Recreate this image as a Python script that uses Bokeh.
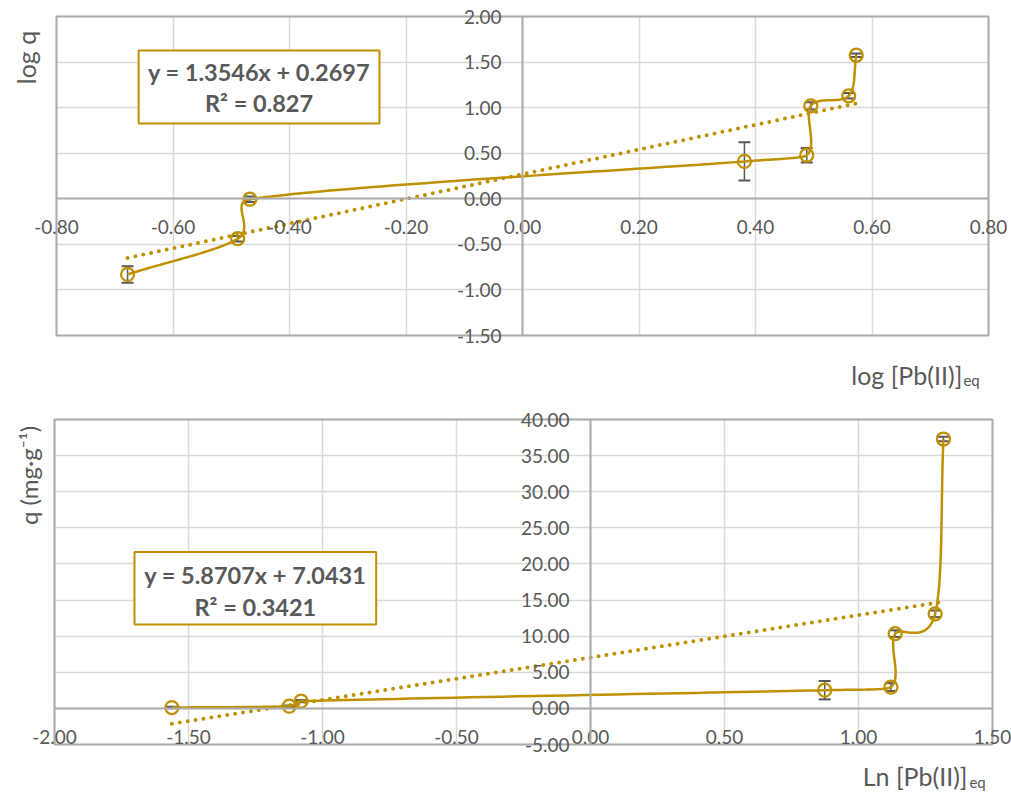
import math
import numpy as np
from bokeh.plotting import figure
from bokeh.layouts import column
from bokeh.models import (Range1d, FixedTicker, NumeralTickFormatter, ColumnDataSource,
                          Whisker, TeeHead, BoxAnnotation, Label)
from bokeh.embed import file_html
from bokeh.resources import INLINE

# ---- Freundlich-style plot: log q vs log [Pb(II)]eq ----
log_c = [-0.678, -0.489, -0.468, 0.381, 0.488, 0.495, 0.560, 0.573]
log_q = [-0.830, -0.438, -0.005, 0.410, 0.478, 1.020, 1.130, 1.575]
log_q_err = [0.09, 0.03, 0.03, 0.21, 0.08, 0.04, 0.03, 0.02]
log_slope, log_intercept, log_r2 = 1.3546, 0.2697, "0.827"
top_x_ticks = [-0.8, -0.6, -0.4, -0.2, 0.0, 0.2, 0.4, 0.6, 0.8]
top_y_ticks = [-1.5, -1.0, -0.5, 0.0, 0.5, 1.0, 1.5, 2.0]

# ---- Temkin-style plot: q vs Ln [Pb(II)]eq ----
ln_c = [-1.562, -1.124, -1.080, 0.874, 1.121, 1.137, 1.286, 1.317]
q = [0.12, 0.30, 1.00, 2.52, 2.95, 10.35, 13.10, 37.30]
q_err = [0.10, 0.10, 0.15, 1.27, 0.55, 0.46, 0.46, 0.32]
ln_slope, ln_intercept, ln_r2 = 5.8707, 7.0431, "0.3421"
bot_x_ticks = [-2.0, -1.5, -1.0, -0.5, 0.0, 0.5, 1.0, 1.5]
bot_y_ticks = [-5, 0, 5, 10, 15, 20, 25, 30, 35, 40]

GOLD = "#BF9000"
TEXT = "#595959"
GRID = "#D9D9D9"
AXIS = "#ABABAB"
FONT = "Lato"


def bezier_controls(p0, p1, p2, p3):
    """Control points of a smoothed-line segment p1 -> p2 (tangents capped
    at half the segment length so short hops do not overshoot)."""
    d02 = np.linalg.norm(p2 - p0)
    d12 = np.linalg.norm(p2 - p1)
    d13 = np.linalg.norm(p3 - p1)
    if d12 == 0:
        return p1, p2
    if d02 / 6 < d12 / 2 and d13 / 6 < d12 / 2:
        f0 = 1 / 6 if np.any(p0 != p1) else 1 / 3
        f1 = 1 / 6 if np.any(p2 != p3) else 1 / 3
        return p1 + (p2 - p0) * f0, p2 - (p3 - p1) * f1
    if d02 / 6 >= d12 / 2 and d13 / 6 >= d12 / 2:
        return p1 + (p2 - p0) * d12 / 2 / d02, p2 - (p3 - p1) * d12 / 2 / d13
    if d02 / 6 >= d12 / 2:
        return p1 + (p2 - p0) * d12 / 2 / d02, p2 - (p3 - p1) * d12 / 2 / d02
    return p1 + (p2 - p0) * d12 / 2 / d13, p2 - (p3 - p1) / 6


def smooth_curve(xs, ys, sx, sy, steps=40):
    """Smoothed polyline through the points, built in screen proportions."""
    P = np.column_stack([np.asarray(xs, float) * sx, np.asarray(ys, float) * sy])
    n = len(P)
    out = []
    for i in range(n - 1):
        p0 = P[i - 1] if i > 0 else P[i]
        p1, p2 = P[i], P[i + 1]
        p3 = P[i + 2] if i + 2 < n else P[i + 1]
        c1, c2 = bezier_controls(p0, p1, p2, p3)
        t = np.linspace(0, 1, steps)[:, None]
        seg = (1 - t) ** 3 * p1 + 3 * (1 - t) ** 2 * t * c1 + 3 * (1 - t) * t ** 2 * c2 + t ** 3 * p2
        out.append(seg if i == 0 else seg[1:])
    pts = np.vstack(out)
    return pts[:, 0] / sx, pts[:, 1] / sy


def make_panel(xv, yv, err, slope, intercept, xr, yr, xticks, yticks,
               width, height, area_left, area_top, area_w, area_h, x_standoff):
    # the frame spans the whole canvas; the plot area is a sub-box of it
    sx = area_w / (xr[1] - xr[0])
    sy = area_h / (yr[1] - yr[0])
    x_range = Range1d(xr[0] - area_left / sx, xr[1] + (width - area_left - area_w) / sx)
    y_range = Range1d(yr[0] - (height - area_top - area_h) / sy, yr[1] + area_top / sy)
    p = figure(width=width, height=height, x_range=x_range, y_range=y_range,
               output_backend="svg", toolbar_location=None,
               min_border_left=0, min_border_right=0, min_border_top=0, min_border_bottom=0)
    p.background_fill_color = "white"
    p.border_fill_color = "white"
    p.outline_line_color = None

    p.xgrid.ticker = FixedTicker(ticks=xticks)
    p.ygrid.ticker = FixedTicker(ticks=yticks)
    p.xgrid.cross_bounds = yr
    p.ygrid.cross_bounds = xr
    for g in (p.xgrid, p.ygrid):
        g.grid_line_color = GRID
        g.grid_line_width = 1.5

    # plot-area border
    p.add_layout(BoxAnnotation(left=xr[0], right=xr[1], bottom=yr[0], top=yr[1],
                               fill_alpha=0, line_color=AXIS, line_alpha=1.0,
                               line_width=2, level="underlay"))

    for ax, ticks, bnds in ((p.xaxis, xticks, xr), (p.yaxis, yticks, yr)):
        ax.ticker = FixedTicker(ticks=ticks)
        ax.formatter = NumeralTickFormatter(format="0.00")
        ax.bounds = bnds
        ax.major_tick_line_color = None
        ax.minor_tick_line_color = None
        ax.major_tick_out = 0
        ax.major_tick_in = 0
        ax.axis_line_color = AXIS
        ax.axis_line_width = 2
        ax.major_label_text_font = FONT
        ax.major_label_text_font_size = "19px"
        ax.major_label_text_color = TEXT
        ax.fixed_location = 0
    p.xaxis.major_label_standoff = x_standoff
    p.yaxis.major_label_standoff = 21

    # linear trendline over the data extent
    tx = [min(xv), max(xv)]
    ty = [slope * x + intercept for x in tx]
    p.line(tx, ty, line_color=GOLD, line_width=4, line_dash="0 8", line_cap="round")

    # error bars
    src = ColumnDataSource(data=dict(x=xv, lower=[y - e for y, e in zip(yv, err)],
                                     upper=[y + e for y, e in zip(yv, err)]))
    p.add_layout(Whisker(base="x", lower="lower", upper="upper", source=src, dimension="height",
                         line_color=TEXT, line_width=1.5,
                         upper_head=TeeHead(size=12, line_color=TEXT, line_width=2),
                         lower_head=TeeHead(size=12, line_color=TEXT, line_width=2)))

    # smoothed series line and open circle markers
    cx, cy = smooth_curve(xv, yv, sx, sy)
    p.line(cx, cy, line_color=GOLD, line_width=2.5)
    p.scatter(xv, yv, size=13, fill_color=None, line_color=GOLD, line_width=2.25)
    return p


top = make_panel(log_c, log_q, log_q_err, log_slope, log_intercept,
                 (-0.8, 0.8), (-1.5, 2.0), top_x_ticks, top_y_ticks,
                 1011, 400, 56, 16, 932, 319, 21)
bot = make_panel(ln_c, q, q_err, ln_slope, ln_intercept,
                 (-2.0, 1.5), (-5.0, 40.0), bot_x_ticks, bot_y_ticks,
                 1011, 392, 54, 19, 938, 325, 22)


def equation_box(p, left, right, btm, tp, slope, intercept, r2, y1, y2):
    p.add_layout(BoxAnnotation(left=left, right=right, bottom=btm, top=tp,
                               fill_color="white", fill_alpha=1.0,
                               line_color=GOLD, line_alpha=1.0, line_width=2, level="annotation"))
    xc = (left + right) / 2
    for txt, yy in ((f"y = {slope:.4f}x + {intercept:.4f}", y1), (f"R² = {r2}", y2)):
        p.add_layout(Label(x=xc, y=yy, text=txt, text_align="center", text_baseline="middle",
                           text_font=FONT, text_font_style="bold", text_font_size="23.5px",
                           text_color=TEXT))


def title_text(p, x, y, txt, size, align="center", baseline="middle", angle=0.0):
    p.add_layout(Label(x=x, y=y, text=txt, text_align=align, text_baseline=baseline,
                       angle=angle, text_font=FONT, text_font_size=size, text_color=TEXT))


equation_box(top, -0.659, -0.2455, 0.827, 1.627, log_slope, log_intercept, log_r2, 1.386, 1.046)
equation_box(bot, -1.7015, -0.7996, 11.60, 21.65, ln_slope, ln_intercept, ln_r2, 18.42, 13.99)

title_text(top, -0.853, 1.55, "log q", "25px", angle=math.pi / 2)
title_text(top, 0.755, -1.935, "log [Pb(II)]", "25px", align="right", baseline="alphabetic")
title_text(top, 0.757, -1.985, "eq", "15px", align="left", baseline="alphabetic")

title_text(bot, -2.097, 32.25, "q (mg·g⁻¹)", "24px", angle=math.pi / 2)
title_text(bot, 1.4067, -9.35, "Ln [Pb(II)]", "25px", align="right", baseline="alphabetic")
title_text(bot, 1.414, -10.15, "eq", "15px", align="left", baseline="alphabetic")

layout = column(top, bot, spacing=0)
open("out.html", "w").write(file_html(layout, INLINE))
